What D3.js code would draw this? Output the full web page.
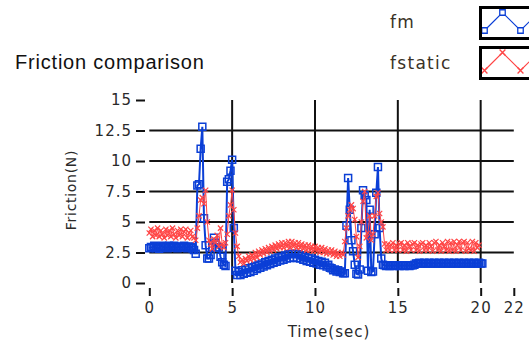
<!DOCTYPE html>
<html>
<head>
<meta charset="utf-8">
<script src="https://cdn.jsdelivr.net/npm/d3@7"></script>
<style>
  body { margin: 0; background: #fff; }
  svg { display: block; }
</style>
</head>
<body>
<svg id="chart" width="529" height="343"></svg>
<script>
// seconds between two samples
const sampleStep = 0.1;

// friction measured (N), one row per second
const fm = [
  2.85, 2.95, 2.9, 3.05, 2.85, 2.95, 2.8, 3.0, 3.05, 2.9,
  2.95, 2.85, 3.05, 2.95, 2.9, 3.05, 2.95, 2.85, 3.0, 2.95,
  2.9, 3.05, 2.95, 2.85, 3.0, 2.95, 2.85, 2.7, 2.4, 8.0,
  8.1, 11.0, 12.8, 5.3, 3.1, 2.0, 2.0, 2.3, 2.9, 3.7,
  3.3, 2.9, 2.9, 2.15, 1.7, 1.5, 1.4, 8.3, 8.5, 9.2,
  10.1, 4.5, 1.0, 0.65, 0.9, 0.65, 1.05, 0.75, 1.1, 0.85,
  1.2, 0.9, 1.3, 1.0, 1.4, 1.15, 1.5, 1.25, 1.6, 1.35,
  1.7, 1.45, 1.8, 1.55, 1.9, 1.65, 2.0, 1.75, 2.1, 1.85,
  2.15, 1.9, 2.25, 2.0, 2.35, 2.05, 2.4, 2.1, 2.4, 2.05,
  2.35, 2.0, 2.25, 1.9, 2.15, 1.8, 2.05, 1.75, 2.0, 1.65,
  1.9, 1.6, 1.8, 1.5, 1.75, 1.45, 1.65, 1.35, 1.5, 1.25,
  1.2, 1.05, 1.1, 0.95, 1.05, 0.9, 0.95, 0.8, 0.8, 4.7,
  8.6, 6.0, 3.5, 2.6, 1.5, 0.75, 0.7, 1.1, 4.5, 7.6,
  7.2, 6.8, 1.0, 6.0, 0.9, 0.95, 4.0, 7.4, 9.5, 4.5,
  2.0, 1.5, 1.45, 1.4, 1.45, 1.4, 1.45, 1.45, 1.4, 1.45,
  1.45, 1.4, 1.45, 1.45, 1.4, 1.45, 1.45, 1.4, 1.45, 1.45,
  1.5, 1.6, 1.6, 1.65, 1.6, 1.6, 1.65, 1.6, 1.6, 1.65,
  1.6, 1.6, 1.65, 1.6, 1.6, 1.65, 1.6, 1.6, 1.65, 1.6,
  1.6, 1.65, 1.6, 1.6, 1.65, 1.6, 1.6, 1.65, 1.6, 1.6,
  1.65, 1.6, 1.6, 1.65, 1.6, 1.6, 1.65, 1.6, 1.6, 1.65,
  1.6, 1.6
];

// static friction model (N)
const fstatic = [
  4.1, 4.4, 3.8, 4.3, 3.9, 4.5, 3.8, 4.3, 4.0, 3.7,
  4.4, 3.9, 4.3, 3.8, 4.5, 4.0, 3.7, 4.3, 3.9, 4.4,
  3.8, 4.2, 4.4, 3.7, 4.1, 4.3, 3.8, 3.7, 3.5, 4.5,
  5.5, 6.8, 7.0, 6.5, 7.6, 5.0, 3.5, 3.2, 2.8, 3.6,
  3.3, 3.9, 3.0, 4.5, 3.2, 2.9, 3.3, 4.0, 5.5, 6.4,
  7.6, 6.0, 4.1, 3.0, 2.2, 1.7, 1.9, 1.6, 2.0, 1.8,
  2.2, 1.9, 2.3, 2.0, 2.5, 2.1, 2.6, 2.3, 2.7, 2.4,
  2.8, 2.5, 2.9, 2.6, 3.0, 2.7, 3.1, 2.8, 3.2, 2.9,
  3.3, 2.9, 3.3, 3.0, 3.4, 2.9, 3.4, 3.0, 3.3, 2.9,
  3.3, 2.9, 3.2, 2.8, 3.1, 2.7, 3.1, 2.7, 3.0, 2.6,
  3.0, 2.6, 2.9, 2.5, 2.9, 2.5, 2.8, 2.4, 2.7, 2.4,
  2.7, 2.3, 2.6, 2.2, 2.5, 2.2, 2.5, 2.3, 3.4, 4.5,
  5.5, 6.0, 6.4, 6.1, 5.2, 3.8, 2.1, 3.0, 5.0, 6.7,
  7.5, 3.7, 4.1, 5.5, 3.5, 4.0, 5.5, 7.1, 7.4, 5.7,
  5.0, 4.6, 3.2, 2.7, 3.2, 2.7, 3.1, 3.3, 2.7, 3.1,
  2.7, 3.2, 3.3, 2.7, 3.1, 2.6, 3.3, 3.0, 2.7, 3.2,
  3.3, 2.7, 3.1, 2.6, 3.2, 3.3, 2.7, 3.1, 2.7, 3.3,
  3.0, 2.6, 3.3, 3.4, 2.7, 3.1, 2.6, 3.3, 3.0, 2.7,
  3.4, 2.6, 3.3, 2.7, 3.4, 2.6, 3.1, 3.4, 2.7, 3.3,
  3.4, 2.6, 3.3, 2.8, 2.7, 3.4, 2.6, 3.3, 2.9, 3.1
];

const xTicks = [0, 5, 10, 15, 20, 22];
const xGrid = [5, 10, 15, 20];
const yTicks = [0, 2.5, 5, 7.5, 10, 12.5, 15];
const yGrid = [2.5, 5, 7.5, 10, 12.5];
const seriesNames = ['fm', 'fstatic'];

const blue = '#0b3fd6';
const red = '#ff4545';
const labelFont = 'DejaVu Sans, Verdana, sans-serif';

const svg = d3.select('#chart');

const x = d3.scaleLinear().domain([0, 22]).range([149.3, 513.8]);
const y = d3.scaleLinear().domain([0, 15]).range([283, 100]);

const toPoints = (arr) => arr.map((v, i) => ({ t: i * sampleStep, v: v }));
const fmPts = toPoints(fm);
const fsPts = toPoints(fstatic);

// title
svg.append('text')
  .attr('x', 15)
  .attr('y', 69)
  .attr('font-family', 'Liberation Sans, Arial, sans-serif')
  .attr('font-size', 20)
  .attr('letter-spacing', 0.8)
  .attr('fill', '#111')
  .text('Friction comparison');

// grid
svg.append('g')
  .selectAll('line')
  .data(yGrid)
  .join('line')
  .attr('x1', x(0))
  .attr('x2', x(22))
  .attr('y1', (d) => y(d))
  .attr('y2', (d) => y(d))
  .attr('stroke', '#111')
  .attr('stroke-width', 2);

svg.append('g')
  .selectAll('line')
  .data(xGrid)
  .join('line')
  .attr('x1', (d) => x(d))
  .attr('x2', (d) => x(d))
  .attr('y1', y(15))
  .attr('y2', y(0))
  .attr('stroke', '#111')
  .attr('stroke-width', 2);

// axes
const yAxis = svg.append('g')
  .attr('transform', 'translate(145,0)')
  .call(d3.axisLeft(y).tickValues(yTicks).tickSize(9).tickPadding(4).tickFormat((d) => String(d)));

const xAxis = svg.append('g')
  .attr('transform', 'translate(0,288)')
  .call(d3.axisBottom(x).tickValues(xTicks).tickSize(8).tickPadding(6).tickFormat((d) => String(d)));

[yAxis, xAxis].forEach((g) => {
  g.select('.domain').remove();
  g.selectAll('line').attr('stroke', '#111').attr('stroke-width', 2);
  g.selectAll('text')
    .attr('font-family', labelFont)
    .attr('font-size', 15)
    .attr('letter-spacing', 1)
    .attr('fill', '#2a2a2a');
});

svg.append('text')
  .attr('transform', 'translate(76,190) rotate(-90)')
  .attr('text-anchor', 'middle')
  .attr('font-family', labelFont)
  .attr('font-size', 14)
  .attr('letter-spacing', 0.7)
  .attr('fill', '#2a2a2a')
  .text('Friction(N)');

svg.append('text')
  .attr('x', 329)
  .attr('y', 337)
  .attr('text-anchor', 'middle')
  .attr('font-family', labelFont)
  .attr('font-size', 15)
  .attr('letter-spacing', 1)
  .attr('fill', '#2a2a2a')
  .text('Time(sec)');

// series
const line = d3.line().x((d) => x(d.t)).y((d) => y(d.v));
const square = d3.symbol().type(d3.symbolSquare).size(49);
const cross = d3.symbol().type(d3.symbolTimes).size(20);

const fmG = svg.append('g');
fmG.append('path')
  .datum(fmPts)
  .attr('d', line)
  .attr('fill', 'none')
  .attr('stroke', blue)
  .attr('stroke-width', 2);
fmG.selectAll('path.pt')
  .data(fmPts)
  .join('path')
  .attr('class', 'pt')
  .attr('d', square)
  .attr('transform', (d) => `translate(${x(d.t)},${y(d.v)})`)
  .attr('fill', 'none')
  .attr('stroke', blue)
  .attr('stroke-width', 1.5);

const fsG = svg.append('g');
fsG.append('path')
  .datum(fsPts)
  .attr('d', line)
  .attr('fill', 'none')
  .attr('stroke', red)
  .attr('stroke-width', 1);
fsG.selectAll('path.pt')
  .data(fsPts)
  .join('path')
  .attr('class', 'pt')
  .attr('d', cross)
  .attr('transform', (d) => `translate(${x(d.t)},${y(d.v)})`)
  .attr('fill', 'none')
  .attr('stroke', red)
  .attr('stroke-width', 1.2);

// legend
const legendBoxes = [
  { name: seriesNames[0], top: 7.5, color: blue },
  { name: seriesNames[1], top: 47.5, color: red }
];
const boxLeft = 480.5, boxW = 60, boxH = 31;

const defs = svg.append('defs');
legendBoxes.forEach((b, i) => {
  defs.append('clipPath')
    .attr('id', 'lg' + i)
    .append('rect')
    .attr('x', boxLeft)
    .attr('y', b.top)
    .attr('width', boxW)
    .attr('height', boxH);

  // zigzag glyph inside the box
  const pts = d3.range(4).map((k) => [
    boxLeft + 4 + k * 18,
    k % 2 === 0 ? b.top + boxH - 8 : b.top + 5
  ]);
  const g = svg.append('g').attr('clip-path', `url(#lg${i})`);
  g.append('path')
    .attr('d', d3.line()(pts))
    .attr('fill', 'none')
    .attr('stroke', b.color)
    .attr('stroke-width', 1.2);
  g.selectAll('path.m')
    .data(pts)
    .join('path')
    .attr('class', 'm')
    .attr('d', i === 0 ? d3.symbol().type(d3.symbolSquare).size(30) : d3.symbol().type(d3.symbolTimes).size(24))
    .attr('transform', (p) => `translate(${p[0]},${p[1]})`)
    .attr('fill', i === 0 ? '#fff' : 'none')
    .attr('stroke', b.color)
    .attr('stroke-width', 1.3);

  svg.append('rect')
    .attr('x', boxLeft)
    .attr('y', b.top)
    .attr('width', boxW)
    .attr('height', boxH)
    .attr('fill', 'none')
    .attr('stroke', '#000')
    .attr('stroke-width', 3);

  svg.append('text')
    .attr('x', 390)
    .attr('y', i === 0 ? 28 : 69)
    .attr('font-family', labelFont)
    .attr('font-size', 17)
    .attr('letter-spacing', 1.3)
    .attr('fill', '#3a3226')
    .text(b.name);
});
</script>
</body>
</html>
